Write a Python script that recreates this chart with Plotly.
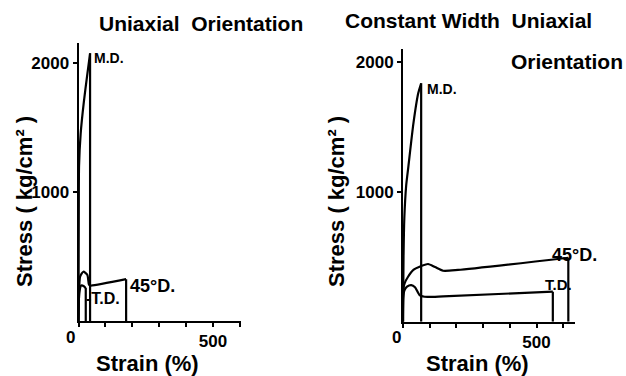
import plotly.graph_objects as go

# ---- data (strain %, stress kg/cm^2) ----
# Left panel: Uniaxial Orientation
L_md_x = [0, 1, 2, 8, 20, 32, 43]
L_md_y = [0, 800, 1200, 1450, 1700, 1900, 2075]
L_td_x = [0, 3, 10, 20, 27]
L_td_y = [0, 220, 275, 270, 255]
L_45_x = [0, 2, 6, 18, 33, 39, 45, 177]
L_45_y = [0, 200, 344, 382, 357, 282, 275, 324]

# Right panel: Constant Width Uniaxial Orientation
R_md_x = [0, 2, 5, 12, 20, 39, 57, 68]
R_md_y = [0, 500, 800, 1050, 1192, 1526, 1757, 1834]
R_td_x = [0, 1, 5, 15, 31, 45, 62, 81, 150, 561]
R_td_y = [0, 180, 240, 270, 282, 265, 205, 192, 195, 231]
R_45_x = [0, 1, 6, 19, 40, 62, 94, 120, 150, 206, 619]
R_45_y = [0, 250, 295, 346, 400, 423, 444, 420, 392, 398, 492]

x_tickvals = [0, 100, 200, 300, 400, 500, 600]
x_ticktext = ["", "", "", "", "", "500", ""]
y_tickvals = [1000, 2000]
y_ticktext = ["1000", "2000"]

FONT = "Liberation Sans"
LW = 2.2

fig = go.Figure()

def add_curve(xs, ys, xa, ya):
    fig.add_trace(go.Scatter(x=xs, y=ys, mode="lines", xaxis=xa, yaxis=ya,
                             line=dict(color="black", width=LW, shape="spline", smoothing=0.6),
                             showlegend=False, hoverinfo="skip"))
    # terminal drop to zero strain axis
    fig.add_trace(go.Scatter(x=[xs[-1], xs[-1]], y=[ys[-1], 0], mode="lines", xaxis=xa, yaxis=ya,
                             line=dict(color="black", width=LW),
                             showlegend=False, hoverinfo="skip"))

for xs, ys in [(L_md_x, L_md_y), (L_td_x, L_td_y), (L_45_x, L_45_y)]:
    add_curve(xs, ys, "x", "y")
for xs, ys in [(R_md_x, R_md_y), (R_td_x, R_td_y), (R_45_x, R_45_y)]:
    add_curve(xs, ys, "x2", "y2")

axis_common = dict(showline=True, linecolor="black", linewidth=2, showgrid=False, zeroline=False,
                   ticks="outside", ticklen=4, tickwidth=2, tickcolor="black", automargin=False,
                   tickfont=dict(family=FONT, size=17, color="black", weight="bold"))

fig.update_layout(
    width=626, height=376,
    margin=dict(l=0, r=0, t=0, b=0),
    paper_bgcolor="white", plot_bgcolor="white",
    xaxis=dict(domain=[78.5/626, 241/626], range=[0, 604], tickvals=x_tickvals, ticktext=x_ticktext,
               anchor="y", **axis_common),
    yaxis=dict(domain=[1-321/376, 1-43/376], range=[0, 2155], tickvals=y_tickvals, ticktext=y_ticktext,
               anchor="x", **axis_common),
    xaxis2=dict(domain=[403/626, 575/626], range=[0, 644], tickvals=x_tickvals, ticktext=x_ticktext,
                anchor="y2", **axis_common),
    yaxis2=dict(domain=[1-321.7/376, 1-49/376], range=[0, 2098], tickvals=y_tickvals, ticktext=y_ticktext,
                anchor="x2", **axis_common),
)

def ann(text, x, y, xref="paper", yref="paper", size=16, xanchor="center", yanchor="middle", angle=0):
    fig.add_annotation(text=text, x=x, y=y, xref=xref, yref=yref, showarrow=False,
                       xanchor=xanchor, yanchor=yanchor, textangle=angle,
                       font=dict(family=FONT, size=size, color="black", weight="bold"))

# titles
ann("Uniaxial  Orientation", 201/626, 1-23/376, size=21)
ann("Constant Width  Uniaxial", 468/626, 1-20/376, size=21)
ann("Orientation", 625/626, 1-62/376, size=21, xanchor="right")

# axis titles
ann("Strain (%)", 147/626, 1-363/376, size=22)
ann("Strain (%)", 477/626, 1-363/376, size=22)
ann("Stress ( kg/cm² )", 24/626, 1-202/376, size=22, angle=-90)
ann("Stress ( kg/cm² )", 336/626, 1-202/376, size=22, angle=-90)

# zero labels
ann("0", 70/626, 1-337/376, size=17)
ann("0", 396/626, 1-337/376, size=17)

# curve labels
ann("M.D.", 52, 2040, "x", "y", size=14, xanchor="left")
ann("45°D.", 184, 271, "x", "y", size=18, xanchor="left")
ann("-T.D.", 20, 178, "x", "y", size=16, xanchor="left")
ann("M.D.", 82, 1790, "x2", "y2", size=14, xanchor="left")
ann("45°D.", 551, 513, "x2", "y2", size=18, xanchor="left")
ann("T.D.", 524, 290, "x2", "y2", size=15, xanchor="left")

fig.write_html("out.html", config={"displayModeBar": False},
               post_script="document.body.style.margin='0';document.body.style.overflow='hidden';")
